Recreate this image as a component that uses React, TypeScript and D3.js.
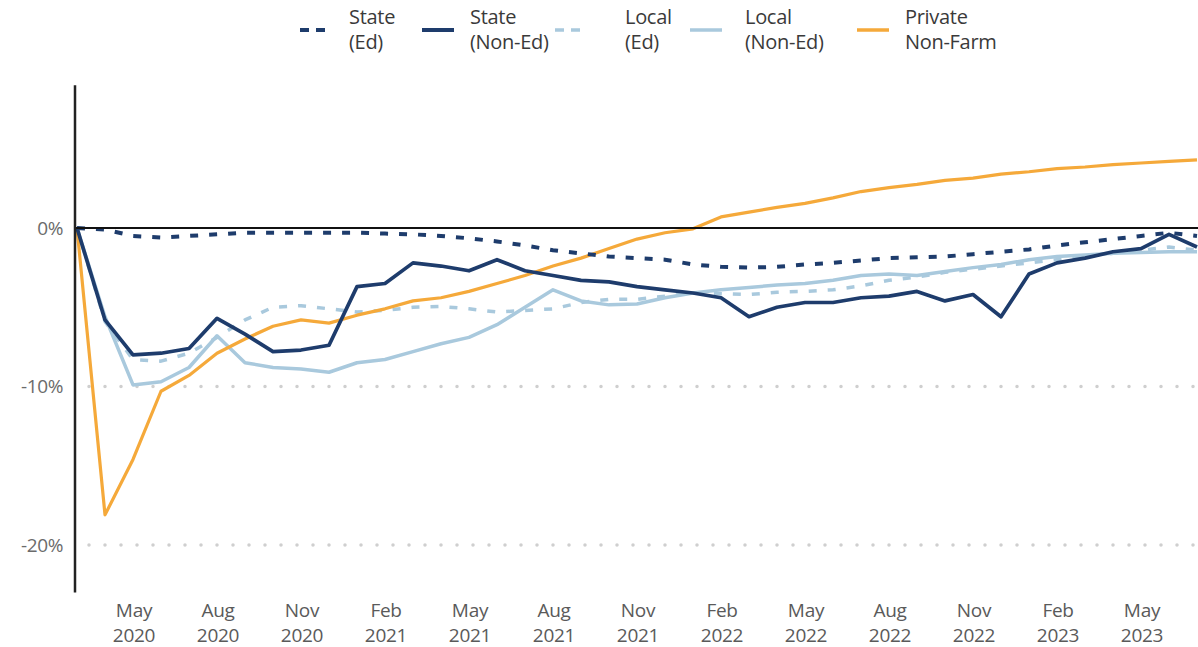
import React from 'react';
import * as d3 from 'd3';

const categories = [
  'Mar 2020', 'Apr 2020', 'May 2020', 'Jun 2020', 'Jul 2020', 'Aug 2020', 'Sep 2020', 'Oct 2020', 'Nov 2020', 'Dec 2020',
  'Jan 2021', 'Feb 2021', 'Mar 2021', 'Apr 2021', 'May 2021', 'Jun 2021', 'Jul 2021', 'Aug 2021', 'Sep 2021', 'Oct 2021',
  'Nov 2021', 'Dec 2021', 'Jan 2022', 'Feb 2022', 'Mar 2022', 'Apr 2022', 'May 2022', 'Jun 2022', 'Jul 2022', 'Aug 2022',
  'Sep 2022', 'Oct 2022', 'Nov 2022', 'Dec 2022', 'Jan 2023', 'Feb 2023', 'Mar 2023', 'Apr 2023', 'May 2023', 'Jun 2023',
  'Jul 2023',
];

const stateEd = [
  0, -0.1, -0.5, -0.6, -0.5, -0.4, -0.3, -0.3, -0.3, -0.3,
  -0.3, -0.35, -0.4, -0.5, -0.65, -0.85, -1.1, -1.4, -1.6, -1.8,
  -1.9, -2.0, -2.3, -2.45, -2.5, -2.45, -2.3, -2.2, -2.05, -1.9,
  -1.85, -1.8, -1.65, -1.5, -1.35, -1.1, -0.9, -0.7, -0.5, -0.3,
  -0.5,
];

const stateNonEd = [
  0, -5.8, -8.0, -7.9, -7.6, -5.7, -6.7, -7.8, -7.7, -7.4,
  -3.7, -3.5, -2.2, -2.4, -2.7, -2.0, -2.7, -3.0, -3.3, -3.4,
  -3.7, -3.9, -4.1, -4.4, -5.6, -5.0, -4.7, -4.7, -4.4, -4.3,
  -4.0, -4.6, -4.2, -5.6, -2.9, -2.2, -1.9, -1.5, -1.3, -0.4,
  -1.2,
];

const localEd = [
  0, -5.9, -8.3, -8.4, -7.9, -6.9, -5.8, -5.0, -4.9, -5.1,
  -5.3, -5.2, -5.0, -4.95, -5.1, -5.3, -5.2, -5.1, -4.7, -4.5,
  -4.5, -4.3, -4.1, -4.15, -4.2, -4.05, -4.0, -3.9, -3.65, -3.3,
  -3.1, -2.8, -2.6, -2.4, -2.2, -2.0, -1.8, -1.6, -1.4, -1.2,
  -1.4,
];

const localNonEd = [
  0, -5.6, -9.9, -9.7, -8.8, -6.8, -8.5, -8.8, -8.9, -9.1,
  -8.5, -8.3, -7.8, -7.3, -6.9, -6.1, -5.0, -3.9, -4.6, -4.85,
  -4.8, -4.4, -4.1, -3.9, -3.75, -3.6, -3.5, -3.3, -3.0, -2.9,
  -3.0, -2.75, -2.5, -2.3, -2.0, -1.8, -1.7, -1.6, -1.55, -1.5,
  -1.5,
];

const privateNonFarm = [
  0, -18.1, -14.6, -10.3, -9.3, -7.9, -7.0, -6.2, -5.8, -6.0,
  -5.5, -5.1, -4.6, -4.4, -4.0, -3.5, -3.0, -2.4, -1.9, -1.3,
  -0.7, -0.3, -0.05, 0.7, 1.0, 1.3, 1.55, 1.9, 2.3, 2.55,
  2.75, 3.0, 3.15, 3.4, 3.55, 3.75, 3.85, 4.0, 4.1, 4.2,
  4.3,
];

const xTickLabels = [
  'May 2020', 'Aug 2020', 'Nov 2020', 'Feb 2021', 'May 2021', 'Aug 2021', 'Nov 2021',
  'Feb 2022', 'May 2022', 'Aug 2022', 'Nov 2022', 'Feb 2023', 'May 2023',
];

const yTicks = [0, -10, -20];
const gridTicks = [-10, -20];

const NAVY = '#1e3c6c';
const LIGHT = '#a9c9dd';
const ORANGE = '#f5a93a';

const series = [
  { name: ['Local', '(Ed)'], values: localEd, color: LIGHT, dash: '8,11', width: 3.5 },
  { name: ['Local', '(Non-Ed)'], values: localNonEd, color: LIGHT, dash: null, width: 3.5 },
  { name: ['Private', 'Non-Farm'], values: privateNonFarm, color: ORANGE, dash: null, width: 3.2 },
  { name: ['State', '(Ed)'], values: stateEd, color: NAVY, dash: '8,11', width: 4 },
  { name: ['State', '(Non-Ed)'], values: stateNonEd, color: NAVY, dash: null, width: 3.7 },
];

const legendOrder = [
  { name: ['State', '(Ed)'], color: NAVY, dash: '8,11', width: 4 },
  { name: ['State', '(Non-Ed)'], color: NAVY, dash: null, width: 4 },
  { name: ['Local', '(Ed)'], color: LIGHT, dash: '8,11', width: 3.5 },
  { name: ['Local', '(Non-Ed)'], color: LIGHT, dash: null, width: 3.5 },
  { name: ['Private', 'Non-Farm'], color: ORANGE, dash: null, width: 3.5 },
];

const W = 1198;
const H = 647;
const FONT = "'Open Sans', 'Noto Sans', sans-serif";

export default function App() {
  const x = d3.scalePoint<string>().domain(categories).range([77, 77 + 28 * (categories.length - 1)]);
  const y = d3.scaleLinear().domain([0, -20]).range([228, 545]);

  const line = d3
    .line<number>()
    .x((_, i) => x(categories[i]) as number)
    .y((d) => y(d));

  const axisX = 75;
  const yTop = y(9);
  const yBottom = y(-23);

  const legendXs = [300, 422, 555, 690, 857];
  const legendTextXs = [349, 470, 625, 745, 905];

  return (
    <svg
      width={W}
      height={H}
      style={{ position: 'absolute', left: 0, top: 0, background: '#fff' }}
      fontFamily={FONT}
    >
      <defs>
        <clipPath id="plot">
          <rect x={axisX} y={0} width={W - axisX} height={H} />
        </clipPath>
      </defs>

      {/* grid lines */}
      {gridTicks.map((t) => (
        <line
          key={t}
          x1={axisX + 14}
          x2={W}
          y1={y(t)}
          y2={y(t)}
          stroke="#cfcfcf"
          strokeWidth={3.5}
          strokeDasharray="0,16"
          strokeLinecap="round"
        />
      ))}

      {/* y tick labels */}
      {yTicks.map((t) => (
        <text
          key={t}
          x={63}
          y={y(t)}
          dy="0.36em"
          textAnchor="end"
          fontSize={19}
          letterSpacing={-0.4}
          fill="#6b6b6b"
        >
          {`${t}%`}
        </text>
      ))}

      {/* series */}
      <g clipPath="url(#plot)">
        {series.map((s, k) => (
          <path
            key={k}
            d={line(s.values) || ''}
            fill="none"
            stroke={s.color}
            strokeWidth={s.width}
            strokeDasharray={s.dash || undefined}
            strokeLinejoin="round"
          />
        ))}
      </g>

      {/* zero line */}
      <line x1={axisX} x2={W} y1={y(0)} y2={y(0)} stroke="#111" strokeWidth={2} />
      {/* y axis */}
      <line x1={axisX} x2={axisX} y1={yTop} y2={yBottom} stroke="#222" strokeWidth={2.5} />

      {/* x tick labels */}
      {xTickLabels.map((lab) => {
        const [m, yr] = lab.split(' ');
        const px = (x(lab) as number) + 1;
        return (
          <text key={lab} x={px} textAnchor="middle" fontSize={19} letterSpacing={-0.3} fill="#5a5a5a">
            <tspan x={px} y={617}>{m}</tspan>
            <tspan x={px} y={642}>{yr}</tspan>
          </text>
        );
      })}

      {/* legend */}
      {legendOrder.map((s, k) => (
        <g key={k}>
          <line
            x1={legendXs[k]}
            x2={legendXs[k] + 32}
            y1={30}
            y2={30}
            stroke={s.color}
            strokeWidth={s.width}
            strokeDasharray={s.dash ? '9,7' : undefined}
          />
          <text x={legendTextXs[k]} fontSize={20} letterSpacing={-0.3} fill="#3a3a3a">
            <tspan x={legendTextXs[k]} y={24}>{s.name[0]}</tspan>
            <tspan x={legendTextXs[k]} y={49}>{s.name[1]}</tspan>
          </text>
        </g>
      ))}
    </svg>
  );
}
